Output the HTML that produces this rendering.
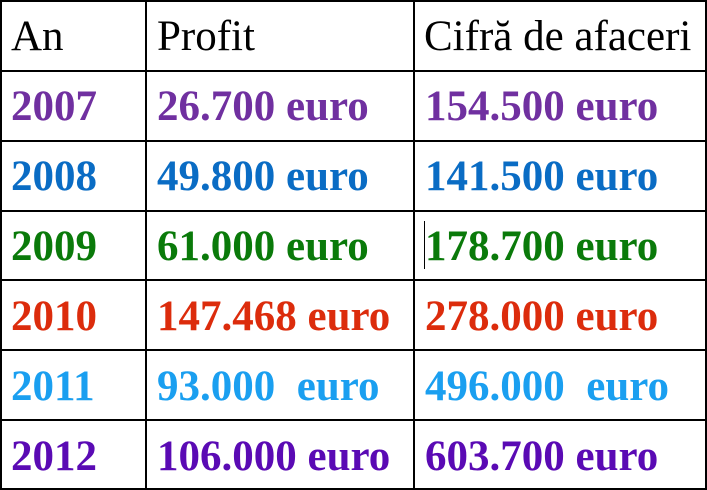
<!DOCTYPE html>
<html><head><meta charset="utf-8"><style>
body{margin:0;width:707px;height:490px;background:#fff;overflow:hidden;position:relative;font-family:"Liberation Serif",serif;font-size:43px}
.h{position:absolute;background:#000}
.t{position:absolute;white-space:pre;line-height:1}
.b{font-weight:bold}
</style></head><body>
<div class="h" style="left:0;top:0;width:707px;height:2px"></div>
<div class="h" style="left:0;top:70px;width:707px;height:2px"></div>
<div class="h" style="left:0;top:140px;width:707px;height:2px"></div>
<div class="h" style="left:0;top:210px;width:707px;height:2px"></div>
<div class="h" style="left:0;top:279px;width:707px;height:2px"></div>
<div class="h" style="left:0;top:349px;width:707px;height:2px"></div>
<div class="h" style="left:0;top:419px;width:707px;height:2px"></div>
<div class="h" style="left:0;top:488px;width:707px;height:2px"></div>
<div class="h" style="left:0;top:0;width:2px;height:490px"></div>
<div class="h" style="left:145px;top:0;width:2px;height:490px"></div>
<div class="h" style="left:413px;top:0;width:2px;height:490px"></div>
<div class="h" style="left:705px;top:0;width:2px;height:490px"></div>
<div class="h" style="left:424px;top:221px;width:1px;height:48px"></div>

<div class="t" style="left:11px;top:15px">An</div>
<div class="t" style="left:157px;top:15px">Profit</div>
<div class="t" style="left:424px;top:15px">Cifră de afaceri</div>

<div class="t b" style="left:11px;top:85px;color:#7030a0">2007</div>
<div class="t b" style="left:157px;top:85px;color:#7030a0">26.700 euro</div>
<div class="t b" style="left:425px;top:85px;color:#7030a0">154.500 euro</div>

<div class="t b" style="left:11px;top:155px;color:#0a6cc4">2008</div>
<div class="t b" style="left:157px;top:155px;color:#0a6cc4">49.800 euro</div>
<div class="t b" style="left:425px;top:155px;color:#0a6cc4">141.500 euro</div>

<div class="t b" style="left:11px;top:225px;color:#0a7a0a">2009</div>
<div class="t b" style="left:157px;top:225px;color:#0a7a0a">61.000 euro</div>
<div class="t b" style="left:425px;top:225px;color:#0a7a0a">178.700 euro</div>

<div class="t b" style="left:11px;top:295px;color:#dc2c0c">2010</div>
<div class="t b" style="left:157px;top:295px;color:#dc2c0c">147.468 euro</div>
<div class="t b" style="left:425px;top:295px;color:#dc2c0c">278.000 euro</div>

<div class="t b" style="left:11px;top:365px;color:#1a9ff0">2011</div>
<div class="t b" style="left:157px;top:365px;color:#1a9ff0">93.000  euro</div>
<div class="t b" style="left:425px;top:365px;color:#1a9ff0">496.000  euro</div>

<div class="t b" style="left:11px;top:435px;color:#5a0ab4">2012</div>
<div class="t b" style="left:157px;top:435px;color:#5a0ab4">106.000 euro</div>
<div class="t b" style="left:425px;top:435px;color:#5a0ab4">603.700 euro</div>
</body></html>
